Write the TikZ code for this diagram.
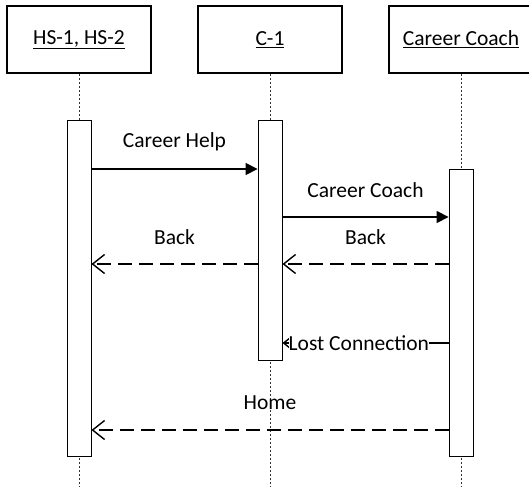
\documentclass[tikz,border=0pt]{standalone}
\usepackage{fontspec}
\setmainfont{Carlito}
\usetikzlibrary{arrows.meta}
\begin{document}
\begin{tikzpicture}[x=1pt,y=-1pt,
  font=\fontsize{21.5}{25}\selectfont,
  header/.style={draw, line width=1.5pt, fill=white, minimum width=144pt, minimum height=67pt, inner sep=0pt},
  activation/.style={draw, line width=0.9pt, fill=white, minimum width=24pt, inner sep=0pt},
  lifeline/.style={draw=black!80, line width=0.9pt, dash pattern=on 2.5pt off 1.5pt},
  call/.style={line width=1.6pt, -{Triangle[length=12pt,width=12pt]}},
  reply/.style={line width=1.6pt, dash pattern=on 14pt off 7pt, -{Straight Barb[length=12pt,width=19pt,line width=1.4pt]}},
  msglabel/.style={inner sep=1pt}]
\useasboundingbox (0,0) rectangle (529,487);

% participants
\node[header] (hs) at (79,39.5) {\underline{HS-1, HS-2}};
\node[header] (c1) at (270,39.5) {\underline{C-1}};
\node[header] (cc) at (461,39.5) {\underline{Career Coach}};

% lifelines
\coordinate (hsend) at (79,487);
\coordinate (c1end) at (270,487);
\coordinate (ccend) at (461,487);
\draw[lifeline] (hs.south) -- (hsend);
\draw[lifeline] (c1.south) -- (c1end);
\draw[lifeline] (cc.south) -- (ccend);

% activation bars
\node[activation, minimum height=336pt] (hsa) at (79,288) {};
\node[activation, minimum height=240pt] (c1a) at (270,240) {};
\node[activation, minimum height=287pt] (cca) at (461,312.5) {};

% messages
\draw[call] (hsa.east |- 0,169) -- (c1a.west |- 0,169)
  node[midway, msglabel, yshift=27pt] {Career Help};
\draw[call] (c1a.east |- 0,217) -- (cca.west |- 0,217)
  node[midway, msglabel, yshift=27pt] {Career Coach};
\draw[reply] (c1a.west |- 0,264) -- (hsa.east |- 0,264)
  node[midway, msglabel, yshift=27pt] {Back};
\draw[reply] (cca.west |- 0,264) -- (c1a.east |- 0,264)
  node[midway, msglabel, yshift=27pt] {Back};
\draw[line width=1.6pt, -{Straight Barb[length=12pt,width=19pt,line width=1.4pt]}]
  (cca.west |- 0,343) coordinate (lostfrom) -- (c1a.east |- 0,343) coordinate (lostto);
\node[fill=white, inner xsep=0pt, inner ysep=3pt, anchor=west] (lost) at ([xshift=6pt]lostto) {Lost Connection};
\draw[reply] (cca.west |- 0,430) -- (hsa.east |- 0,430)
  node[midway, msglabel, yshift=27pt] {Home};
\end{tikzpicture}
\end{document}
